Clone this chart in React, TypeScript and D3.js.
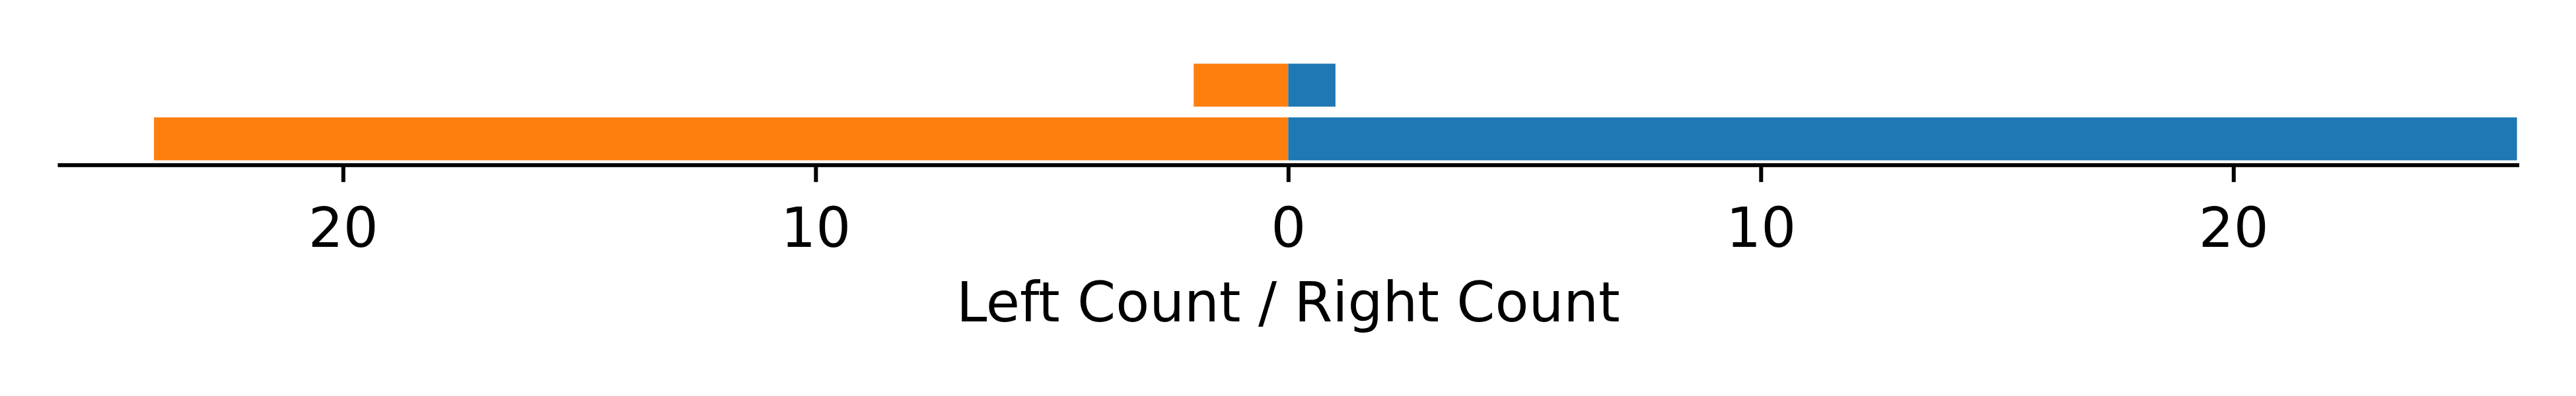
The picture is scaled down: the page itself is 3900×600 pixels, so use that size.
import React, { useRef, useEffect } from 'react';
import { select, scaleLinear, axisBottom } from 'd3';

// one row per category, bottom row first
const categories = ['0', '1'];
const leftCounts = [24, 2];
const rightCounts = [26, 1];
const xTicks = [-20, -10, 0, 10, 20];
const xLabel = 'Left Count / Right Count';

const LEFT_COLOR = '#ff7f0e';
const RIGHT_COLOR = '#1f77b4';

const App = () => {
  const svgRef = useRef<SVGSVGElement>(null);
  const width = 3900;
  const height = 600;
  const font = 'DejaVu Sans, sans-serif';

  useEffect(() => {
    const svg = select(svgRef.current);
    const maxVal = Math.max(...leftCounts, ...rightCounts);

    const xScale = scaleLinear()
      .domain([-maxVal, maxVal])
      .range([90, 3810.6]);

    const yScale = scaleLinear()
      .domain([-0.491, categories.length - 1 + 0.491])
      .range([250.3, 89.1]);

    const barHalf = 0.4;

    svg.select('.left-bars')
      .selectAll('rect')
      .data(leftCounts)
      .join('rect')
      .attr('x', d => xScale(-d))
      .attr('y', (d, i) => yScale(i + barHalf))
      .attr('width', d => xScale(0) - xScale(-d))
      .attr('height', (d, i) => yScale(i - barHalf) - yScale(i + barHalf))
      .attr('fill', LEFT_COLOR);

    svg.select('.right-bars')
      .selectAll('rect')
      .data(rightCounts)
      .join('rect')
      .attr('x', xScale(0))
      .attr('y', (d, i) => yScale(i + barHalf))
      .attr('width', d => xScale(d) - xScale(0))
      .attr('height', (d, i) => yScale(i - barHalf) - yScale(i + barHalf))
      .attr('fill', RIGHT_COLOR);

    const xAxis = axisBottom(xScale)
      .tickValues(xTicks)
      .tickFormat(d => String(Math.abs(+d)))
      .tickSize(26)
      .tickSizeOuter(0);

    const gx = svg.select('.x-axis')
      .attr('transform', 'translate(0, 249.8)')
      .call(xAxis as any);

    gx.select('.domain')
      .attr('stroke', '#000')
      .attr('stroke-width', 6)
      .attr('stroke-linecap', 'square');
    gx.selectAll('.tick line')
      .attr('stroke', '#000')
      .attr('stroke-width', 6);
    gx.selectAll('.tick text')
      .attr('y', 124)
      .attr('dy', 0)
      .attr('fill', '#000')
      .style('font-family', font)
      .style('font-size', '83.3px');

    svg.select('.x-label')
      .attr('x', xScale(0))
      .attr('y', 487.3)
      .attr('text-anchor', 'middle')
      .style('font-family', font)
      .style('font-size', '83.3px')
      .text(xLabel);
  }, []);

  return (
    <div style={{ position: 'absolute', left: 0, top: 0 }}>
      <svg ref={svgRef} width={width} height={height} style={{ display: 'block', background: '#fff' }}>
        <g className="left-bars" />
        <g className="right-bars" />
        <g className="x-axis" />
        <text className="x-label" />
      </svg>
    </div>
  );
};

export default App;
